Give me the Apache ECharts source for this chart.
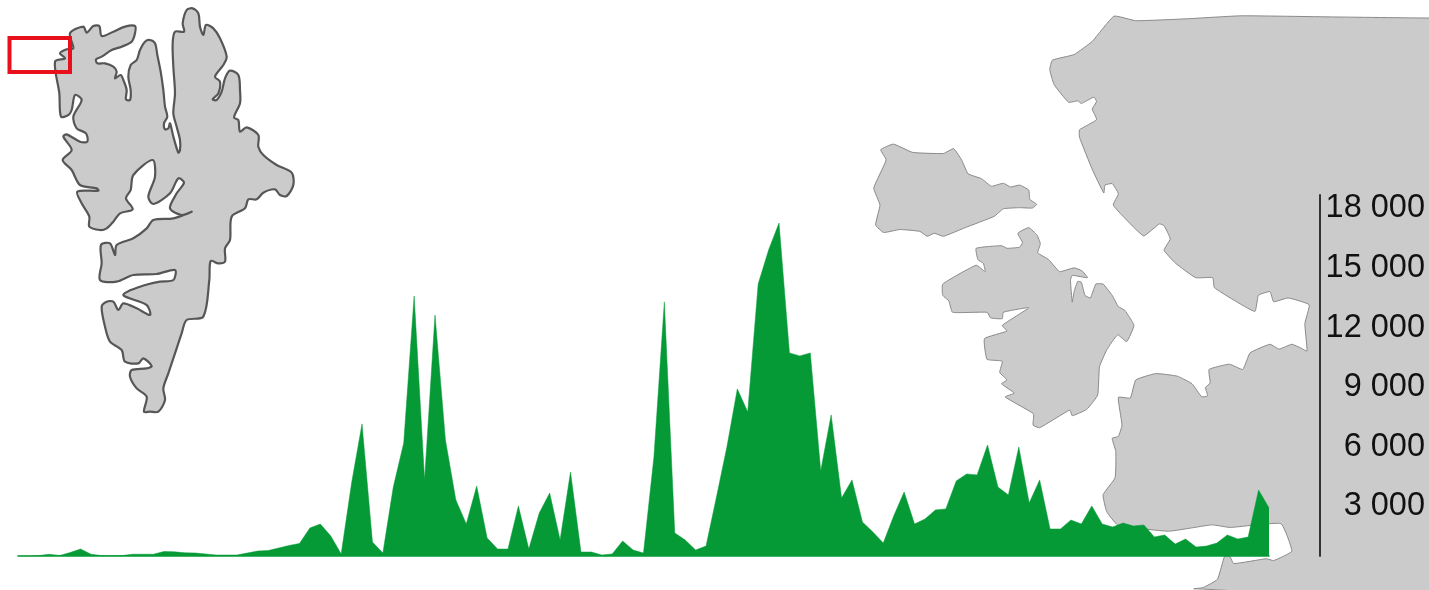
<!DOCTYPE html>
<html><head><meta charset="utf-8">
<style>html,body{margin:0;padding:0;background:#fff}#c{width:1429px;height:590px}</style>
<script src="https://cdn.jsdelivr.net/npm/echarts@6/dist/echarts.min.js"></script>
</head><body><div id="c"></div>
<script>
const values = [0,0,20,85,25,175,350,85,25,15,25,90,90,90,225,210,160,150,100,50,50,50,150,250,275,400,530,630,1410,1610,1010,100,3670,6650,700,150,3470,5690,13090,3830,12130,5840,2820,1610,3520,906,350,350,2520,350,2160,3170,805,4230,200,200,50,100,755,300,150,4980,12790,1160,805,300,500,2970,5490,8410,7250,13690,15400,16760,10220,10070,10220,4280,7100,2920,3830,1710,1210,650,2010,3220,1610,1860,2320,2370,3780,4130,4080,5590,3470,3070,5490,2670,3830,1360,1360,1810,1610,2520,1610,1460,1660,1510,1560,960,1060,600,855,450,500,650,1060,855,955,3320,2420];
const categories = values.map((v,i)=>String(i+1));
const tickValues = [3000,6000,9000,12000,15000,18000];
const tickLabels = ['3 000','6 000','9 000','12 000','15 000','18 000'];

const svalbard = [[210,100],[250,80],[260,98],[280,78],[298,78],[305,108],[340,95],[375,80],[405,78],[405,100],[395,125],[365,140],[335,150],[305,170],[288,178],[292,190],[315,190],[340,200],[350,215],[345,235],[362,225],[372,245],[380,270],[378,298],[390,300],[392,270],[385,230],[392,195],[410,180],[420,150],[435,125],[450,120],[465,130],[472,165],[482,215],[490,270],[495,320],[502,350],[492,370],[495,388],[505,385],[510,370],[520,410],[535,458],[540,450],[540,420],[530,380],[520,340],[525,280],[520,200],[518,130],[525,95],[552,95],[548,70],[560,30],[578,25],[595,40],[600,80],[610,105],[618,75],[640,85],[660,115],[680,170],[670,195],[645,230],[660,245],[655,280],[638,298],[650,300],[665,275],[675,235],[690,212],[715,225],[720,270],[720,310],[702,352],[715,360],[720,395],[740,382],[775,405],[775,440],[790,465],[830,495],[875,518],[880,555],[860,588],[840,585],[825,568],[790,578],[770,598],[745,598],[735,625],[695,650],[690,720],[675,745],[675,785],[655,790],[632,783],[628,840],[610,950],[560,960],[545,1000],[525,1060],[505,1120],[490,1165],[495,1200],[475,1235],[450,1235],[432,1235],[440,1190],[410,1165],[390,1130],[395,1110],[440,1105],[455,1098],[430,1075],[415,1090],[375,1085],[365,1050],[330,1025],[315,980],[305,920],[320,905],[340,905],[355,930],[370,910],[410,925],[450,945],[440,915],[370,885],[420,860],[480,845],[520,840],[525,810],[470,822],[400,825],[350,845],[300,840],[305,790],[303,735],[330,730],[345,765],[350,735],[400,715],[440,685],[460,660],[520,655],[575,635],[545,645],[510,625],[530,580],[552,548],[535,535],[510,580],[460,612],[445,590],[465,530],[458,480],[400,525],[392,570],[378,595],[398,628],[360,640],[340,665],[320,685],[300,690],[268,680],[268,650],[245,610],[232,575],[295,572],[290,565],[240,555],[215,510],[188,480],[215,450],[190,410],[200,403],[240,425],[262,425],[258,400],[230,385],[220,350],[245,300],[225,285],[215,330],[205,345],[183,350],[178,280],[165,185],[195,175],[180,160],[200,148],[220,145]];
const mainland = [[700,43],[640,110],[590,145],[530,160],[523,185],[535,225],[575,272],[600,268],[610,275],[645,258],[652,270],[640,290],[652,318],[605,345],[605,365],[640,450],[672,513],[675,492],[695,488],[712,515],[698,545],[740,590],[782,627],[825,595],[838,600],[855,635],[838,665],[870,700],[925,738],[972,738],[977,765],[1088,828],[1098,785],[1130,775],[1140,802],[1180,792],[1238,810],[1226,860],[1232,933],[1215,925],[1190,915],[1155,928],[1130,915],[1075,938],[1055,982],[1018,968],[962,982],[965,1018],[952,1030],[958,1052],[942,1055],[915,1020],[875,1000],[815,993],[760,1010],[745,1058],[712,1056],[722,1130],[712,1160],[695,1165],[705,1200],[703,1270],[670,1315],[680,1360],[710,1395],[850,1412],[970,1395],[1020,1402],[1160,1392],[1190,1465],[1140,1490],[1120,1485],[1030,1498],[1020,1480],[1005,1478],[985,1540],[945,1562],[920,1565],[1800,1566],[1800,50],[1568,48],[1300,45],[1050,42],[900,50],[760,55]];
const islandNorth = [[57,398],[92,383],[145,405],[230,408],[258,395],[280,425],[298,462],[335,475],[362,495],[395,487],[415,497],[440,492],[465,505],[468,530],[487,543],[475,553],[440,552],[395,555],[370,575],[290,605],[230,628],[205,620],[185,628],[165,615],[110,610],[65,618],[43,598],[55,545],[38,500],[72,425]];
const islandSouth = [[320,660],[390,653],[405,660],[440,657],[448,645],[435,620],[465,605],[488,625],[497,648],[490,672],[520,690],[550,722],[590,712],[612,720],[627,738],[585,732],[580,745],[585,803],[590,775],[600,748],[610,750],[620,785],[635,792],[650,755],[670,755],[695,785],[712,815],[730,825],[755,865],[735,908],[710,890],[680,930],[660,975],[655,1050],[625,1088],[585,1105],[578,1090],[495,1137],[477,1130],[478,1100],[400,1055],[425,1045],[390,1020],[405,1010],[385,990],[392,960],[350,955],[343,900],[405,880],[392,865],[465,818],[395,830],[392,847],[360,845],[350,830],[255,830],[245,800],[228,785],[228,755],[320,705],[345,722],[340,700],[325,690]];

const green = '#059a36';
const fromCropA = p => [p[0]/3, p[1]/3];
const fromCropB = p => [860 + p[0]/2.756, p[1]/2.658];
const land = (pts, fn, stroke, lw, smooth) => ({
  type:'polygon', silent:true,
  shape:{points:pts.map(fn), smooth},
  style:{fill:'#cbcbcb', stroke, lineWidth:lw, lineJoin:'round'}
});

const chart = echarts.init(document.getElementById('c'), null, {renderer:'canvas'});
chart.setOption({
  animation:false,
  backgroundColor:'#fff',
  graphic:{elements:[
    land(mainland, fromCropB, '#8a8a8a', 1, 0.12),
    land(islandNorth, fromCropB, '#8a8a8a', 1, 0.12),
    land(islandSouth, fromCropB, '#8a8a8a', 1, 0.12),
    land(svalbard, fromCropA, '#565656', 2.2, 0.3),
    {type:'rect', silent:true, shape:{x:9.5,y:38,width:60.5,height:34},
     style:{fill:'none', stroke:'#e8101c', lineWidth:4}}
  ]},
  grid:{left:18, width:1251, top:195, bottom:34, containLabel:false},
  xAxis:{type:'category', data:categories, boundaryGap:false,
    axisLine:{show:true, lineStyle:{color:green, width:1.5}},
    axisTick:{show:false}, axisLabel:{show:false}, splitLine:{show:false}},
  yAxis:{type:'value', position:'right', offset:51, min:0, max:18170, interval:3000,
    axisLine:{show:true, lineStyle:{color:'#333', width:2}},
    axisTick:{show:false}, splitLine:{show:false},
    axisLabel:{show:true, inside:false, margin:105, align:'right', verticalAlign:'top',
      lineHeight:20, color:'#111', fontSize:32.5, fontFamily:'Liberation Sans',
      formatter:v=>{const i=tickValues.indexOf(v);return i<0?'':tickLabels[i];}}},
  series:[{type:'line', data:values, symbol:'none', smooth:false, silent:true,
    lineStyle:{color:green, width:0.5},
    areaStyle:{color:green, opacity:1}}]
});
</script></body></html>
